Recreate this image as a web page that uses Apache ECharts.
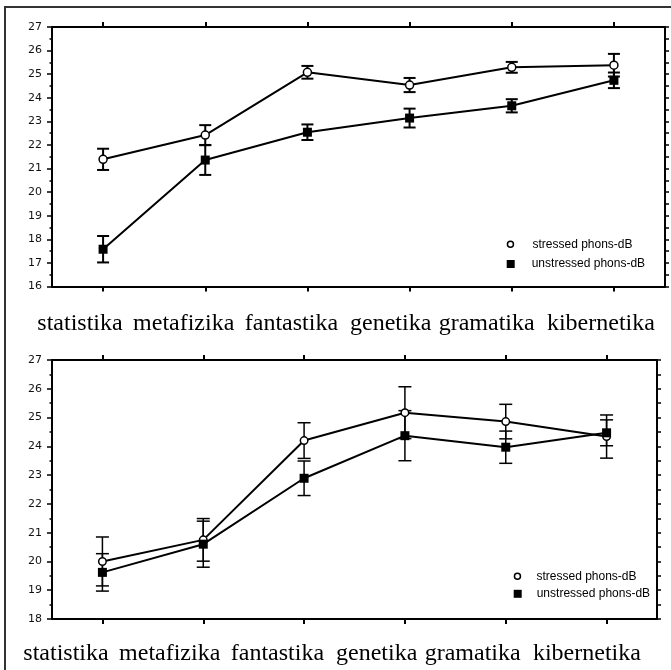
<!DOCTYPE html>
<html>
<head>
<meta charset="utf-8">
<script src="https://cdn.jsdelivr.net/npm/echarts@6/dist/echarts.min.js"></script>
<style>html,body{margin:0;padding:0;background:#fff;}#c{width:671px;height:670px;}</style>
</head>
<body>
<div id="c"></div>
<script>
const categories = ['statistika', 'metafizika', 'fantastika', 'genetika', 'gramatika', 'kibernetika'];
const seriesNames = ['stressed phons-dB', 'unstressed phons-dB'];

// top panel
const topStressed = [21.39, 22.42, 25.08, 24.54, 25.29, 25.38];
const topStressedErr = [0.45, 0.42, 0.27, 0.30, 0.23, 0.48];
const topUnstressed = [17.58, 21.36, 22.54, 23.14, 23.66, 24.74];
const topUnstressedErr = [0.56, 0.63, 0.33, 0.40, 0.28, 0.33];
const topYMin = 16, topYMax = 27;

// bottom panel
const botStressed = [20.00, 20.75, 24.20, 25.17, 24.86, 24.34];
const botStressedErr = [0.85, 0.74, 0.62, 0.90, 0.60, 0.75];
const botUnstressed = [19.62, 20.60, 22.89, 24.37, 23.97, 24.47];
const botUnstressedErr = [0.65, 0.80, 0.60, 0.87, 0.56, 0.45];
const botYMin = 18, botYMax = 27;

// word row positions (centres) under each panel
const topWordX = [80, 183.7, 291.4, 390.7, 486.7, 600.9];
const botWordX = [66, 169.7, 277.4, 376.7, 472.7, 586.9];

const chart = echarts.init(document.getElementById('c'), null, {renderer: 'canvas'});

function errData(vals, errs) {
  return vals.map((v, i) => [i, v - errs[i], v + errs[i]]);
}
function errSeries(name, vals, errs, axisIdx, lw, hw) {
  return {
    type: 'custom', name: name + ' err', xAxisIndex: axisIdx, yAxisIndex: axisIdx, z: 1,
    silent: true,
    data: errData(vals, errs),
    encode: {x: 0, y: [1, 2]},
    renderItem: function (params, api) {
      const x = api.value(0);
      const lo = api.coord([x, api.value(1)]);
      const hi = api.coord([x, api.value(2)]);
      const st = {stroke: '#000', lineWidth: lw};
      return {type: 'group', children: [
        {type: 'line', shape: {x1: hi[0], y1: hi[1], x2: lo[0], y2: lo[1]}, style: st},
        {type: 'line', shape: {x1: hi[0] - hw, y1: hi[1], x2: hi[0] + hw, y2: hi[1]}, style: st},
        {type: 'line', shape: {x1: lo[0] - hw, y1: lo[1], x2: lo[0] + hw, y2: lo[1]}, style: st}
      ]};
    }
  };
}
function lineSeries(name, vals, axisIdx, stressed, lw, size) {
  return {
    type: 'line', name: name, xAxisIndex: axisIdx, yAxisIndex: axisIdx, z: 3,
    data: vals, symbol: stressed ? 'circle' : 'rect', symbolSize: size,
    showAllSymbol: true, animation: false,
    lineStyle: {color: '#000', width: lw},
    itemStyle: stressed ? {color: '#fff', borderColor: '#000', borderWidth: 1.5} : {color: '#000', borderColor: '#000', borderWidth: 0},
    emphasis: {disabled: true}
  };
}
const axisLine = {show: true, lineStyle: {color: '#000', width: 2}};
function xAxes(gridIdx) {
  return [
    {type: 'category', gridIndex: gridIdx, data: categories, position: 'bottom', boundaryGap: true,
     axisLine: axisLine, axisTick: {show: true, alignWithLabel: true, length: 5, lineStyle: {color: '#000', width: 2}},
     axisLabel: {show: false}, splitLine: {show: false}},
    {type: 'category', gridIndex: gridIdx, data: categories, position: 'top', boundaryGap: true,
     axisLine: axisLine, axisTick: {show: true, alignWithLabel: true, length: 5, lineStyle: {color: '#000', width: 2}},
     axisLabel: {show: false}, splitLine: {show: false}}
  ];
}
function yAxes(gridIdx, min, max) {
  return [
    {type: 'value', gridIndex: gridIdx, position: 'left', min: min, max: max, interval: 1,
     axisLine: axisLine, axisTick: {show: true, length: 5, lineStyle: {color: '#000', width: 1.5}},
     minorTick: {show: true, splitNumber: 2, length: 2.5, lineStyle: {color: '#000', width: 1.5}},
     axisLabel: {show: true, margin: 10, color: '#111', fontSize: 11, fontFamily: 'DejaVu Sans'},
     splitLine: {show: false}, minorSplitLine: {show: false}},
    {type: 'value', gridIndex: gridIdx, position: 'right', min: min, max: max, interval: 0.5,
     axisLine: axisLine, axisTick: {show: true, length: 4, lineStyle: {color: '#000', width: 1.5}},
     axisLabel: {show: false}, splitLine: {show: false}}
  ];
}
const squareIcon = 'path://M0,0L10,0L10,10L0,10Z';
function legendItem(name, icon, left, top, w, h, filled) {
  return {
    left: left, top: top, padding: 0, itemWidth: w, itemHeight: h, selectedMode: false,
    symbolKeepAspect: true,
    textStyle: {fontSize: 12, fontFamily: 'Liberation Sans', color: '#000'},
    data: [{name: name, icon: icon,
      itemStyle: filled ? {color: '#000', borderWidth: 0} : {color: '#fff', borderColor: '#000', borderWidth: 1.5}}]
  };
}
const words = [];
categories.forEach((w, i) => {
  words.push({type: 'text', x: topWordX[i], y: 324, silent: true,
    style: {text: w, font: '24px "Liberation Serif"', fill: '#000', align: 'center', verticalAlign: 'middle'}});
  words.push({type: 'text', x: botWordX[i], y: 654, silent: true,
    style: {text: w, font: '24px "Liberation Serif"', fill: '#000', align: 'center', verticalAlign: 'middle'}});
});

const option = {
  animation: false,
  backgroundColor: '#fff',
  grid: [
    {left: 52, top: 27, width: 613, height: 259.5},
    {left: 52, top: 360, width: 605, height: 259}
  ],
  xAxis: xAxes(0).concat(xAxes(1)),
  yAxis: yAxes(0, topYMin, topYMax).concat(yAxes(1, botYMin, botYMax)),
  legend: [
    legendItem(seriesNames[0], 'circle', 506.7, 238.3, 34, 6, false),
    legendItem(seriesNames[1], squareIcon, 506.7, 258, 32, 8, true),
    legendItem(seriesNames[0], 'circle', 513.7, 570.2, 28, 6, false),
    legendItem(seriesNames[1], squareIcon, 513.7, 587.8, 28, 8, true)
  ],
  graphic: [
    {type: 'rect', silent: true, shape: {x: 5, y: 7, width: 900, height: 900},
     style: {fill: 'none', stroke: '#333', lineWidth: 2}}
  ].concat(words),
  series: [
    errSeries(seriesNames[0], topStressed, topStressedErr, 0, 2, 6),
    errSeries(seriesNames[1], topUnstressed, topUnstressedErr, 0, 2, 6),
    lineSeries(seriesNames[0], topStressed, 0, true, 2, 8),
    lineSeries(seriesNames[1], topUnstressed, 0, false, 2, 9),
    errSeries(seriesNames[0], botStressed, botStressedErr, 2, 1.5, 6.5),
    errSeries(seriesNames[1], botUnstressed, botUnstressedErr, 2, 1.5, 6.5),
    lineSeries(seriesNames[0], botStressed, 2, true, 2, 7.5),
    lineSeries(seriesNames[1], botUnstressed, 2, false, 2, 9)
  ]
};
chart.setOption(option);
</script>
</body>
</html>
